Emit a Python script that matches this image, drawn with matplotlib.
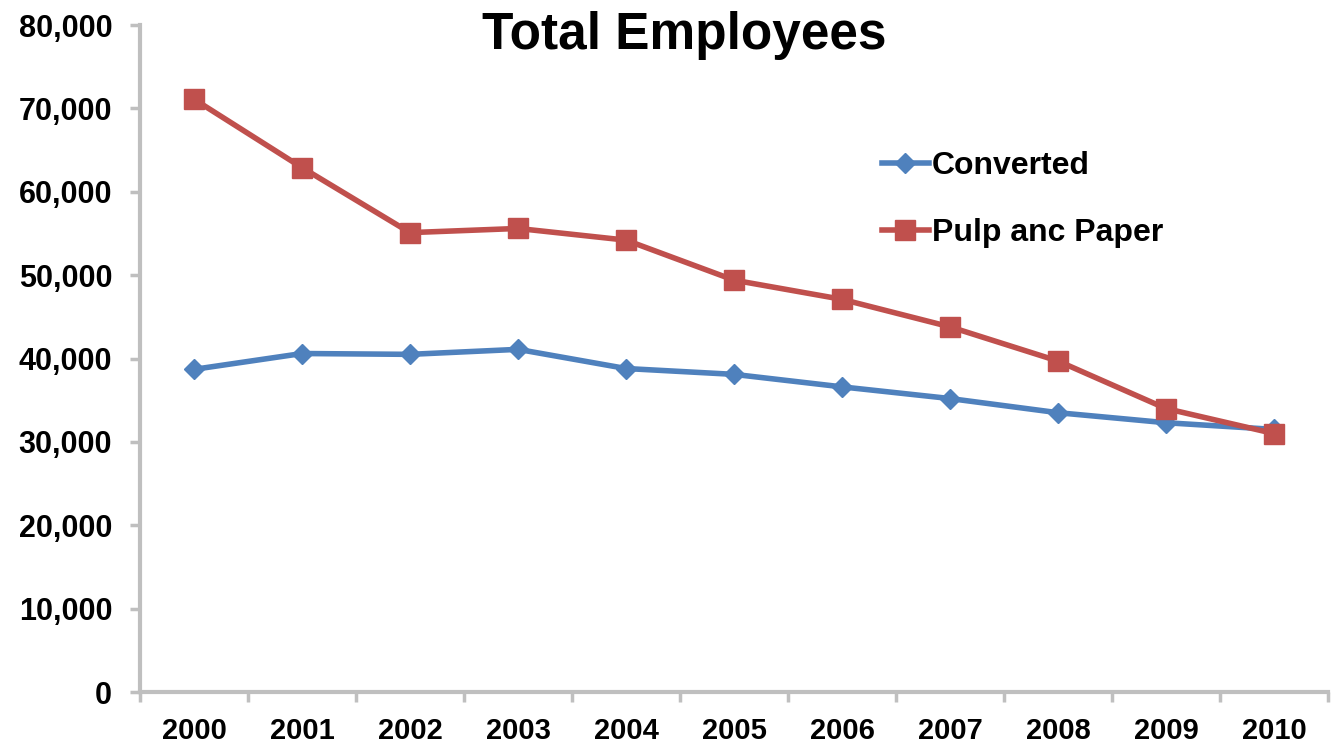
import matplotlib
matplotlib.use("Agg")
import matplotlib.pyplot as plt
from matplotlib.ticker import FuncFormatter, FixedLocator

years = ["2000", "2001", "2002", "2003", "2004", "2005",
         "2006", "2007", "2008", "2009", "2010"]
converted = [38700, 40600, 40500, 41100, 38800, 38100,
             36600, 35200, 33500, 32300, 31500]
pulp_paper = [71100, 62900, 55100, 55600, 54200, 49400,
              47100, 43800, 39700, 34000, 31000]
y_ticks = [0, 10000, 20000, 30000, 40000, 50000, 60000, 70000, 80000]

plt.rcParams["font.family"] = ["Liberation Sans", "DejaVu Sans"]
plt.rcParams["font.weight"] = "bold"

fig = plt.figure(figsize=(13.36, 7.47), dpi=100)
ax = fig.add_axes([0.1048, 0.0736, 0.8892, 0.8929])

x = list(range(len(years)))
blue = "#4F81BD"
red = "#C0504D"
ax.plot(x, converted, color=blue, lw=4, marker="D", markersize=10,
        label="Converted", solid_joinstyle="round")
ax.plot(x, pulp_paper, color=red, lw=4, marker="s", markersize=14,
        label="Pulp anc Paper", solid_joinstyle="round")

ax.set_xlim(-0.5, len(years) - 0.5)
ax.set_ylim(0, 80000)

# category labels centred, tick marks on category boundaries
ax.set_xticks(x)
ax.set_xticklabels(years)
ax.xaxis.set_minor_locator(FixedLocator([i - 0.5 for i in range(len(years) + 1)]))
ax.tick_params(axis="x", which="major", length=0, pad=18, labelsize=21)
ax.tick_params(axis="x", which="minor", length=7, width=2.5, color="#BFBFBF", direction="out")

ax.set_yticks(y_ticks)
ax.yaxis.set_major_formatter(FuncFormatter(lambda v, p: f"{int(v):,}"))
ax.tick_params(axis="y", length=7, width=2.5, color="#BFBFBF", pad=13,
               labelsize=22, direction="out")

for lab in ax.get_xticklabels() + ax.get_yticklabels():
    lab.set_fontweight("bold")

for side in ("top", "right"):
    ax.spines[side].set_visible(False)
for side in ("left", "bottom"):
    ax.spines[side].set_color("#BFBFBF")
    ax.spines[side].set_linewidth(3)

fig.text(0.512, 0.953, "Total Employees", ha="center", va="center",
         fontsize=37, fontweight="bold")

ax.legend(loc="upper left", bbox_to_anchor=(0.614, 0.83), frameon=False,
          fontsize=23, handlelength=1.45, handletextpad=0.1, labelspacing=1.15,
          borderaxespad=0)

fig.savefig("out.png", dpi=100)
